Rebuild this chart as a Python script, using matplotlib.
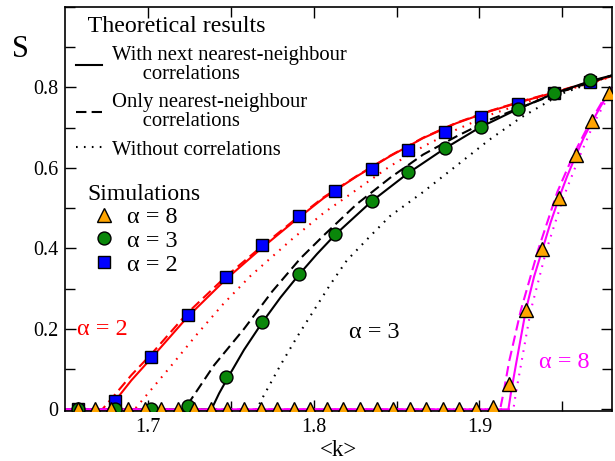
import matplotlib.pyplot as plt
from matplotlib.ticker import MultipleLocator, FixedLocator

plt.rcParams['font.family'] = ['Liberation Serif', 'DejaVu Serif']

# simulation points (x = <k>)
k_sim = [1.658, 1.680, 1.702, 1.724, 1.747, 1.769, 1.791, 1.813,
         1.835, 1.857, 1.879, 1.901, 1.923, 1.945, 1.967]
S_a2 = [0.0, 0.02, 0.129, 0.234, 0.328, 0.408, 0.48, 0.542,
        0.597, 0.645, 0.689, 0.726, 0.76, 0.786, 0.814]
S_a3 = [0.0, 0.0, 0.002, 0.008, 0.08, 0.218, 0.336, 0.435,
        0.518, 0.59, 0.65, 0.702, 0.746, 0.785, 0.818]

k_a8 = [1.658, 1.668, 1.678, 1.688, 1.698, 1.708, 1.718, 1.728, 1.738,
        1.748, 1.758, 1.768, 1.778, 1.788, 1.798, 1.808, 1.818, 1.828,
        1.838, 1.848, 1.858, 1.868, 1.878, 1.888, 1.898, 1.908, 1.918,
        1.928, 1.938, 1.948, 1.958, 1.968, 1.978]
S_a8 = [0, 0, 0, 0, 0, 0, 0, 0, 0, 0, 0, 0, 0, 0, 0, 0, 0, 0, 0, 0, 0,
        0, 0, 0, 0, 0.005, 0.064, 0.246, 0.399, 0.526, 0.632, 0.716, 0.787]

# theory, alpha = 2
k2_nnn = [1.65, 1.676, 1.68, 1.69, 1.702, 1.724, 1.747, 1.769, 1.787, 1.806,
          1.826, 1.846, 1.866, 1.886, 1.9065, 1.9266, 1.95, 1.98]
S2_nnn = [0, 0, 0.02, 0.072, 0.127, 0.23, 0.323, 0.402, 0.463, 0.525,
          0.579, 0.629, 0.674, 0.711, 0.741, 0.766, 0.793, 0.828]
k2_nn = [1.65, 1.6725, 1.68, 1.69, 1.702, 1.724, 1.747, 1.769, 1.787, 1.806,
         1.826, 1.846, 1.866, 1.886, 1.9065, 1.9266, 1.95, 1.98]
S2_nn = [0, 0, 0.036, 0.085, 0.137, 0.24, 0.33, 0.406, 0.466, 0.527,
         0.58, 0.63, 0.675, 0.712, 0.742, 0.767, 0.794, 0.829]
k2_none = [1.65, 1.692, 1.694, 1.713, 1.7295, 1.7455, 1.762, 1.7867, 1.806,
           1.826, 1.846, 1.866, 1.886, 1.9065, 1.9266, 1.95, 1.98]
S2_none = [0, 0, 0.01, 0.103, 0.186, 0.262, 0.332, 0.422, 0.488,
           0.546, 0.604, 0.653, 0.695, 0.732, 0.761, 0.79, 0.827]

# theory, alpha = 3
k3_nnn = [1.65, 1.7385, 1.7395, 1.743, 1.748, 1.758, 1.769, 1.78, 1.791, 1.802,
          1.813, 1.835, 1.857, 1.879, 1.9, 1.922, 1.945, 1.967, 1.98]
S3_nnn = [0, 0, 0.01, 0.04, 0.077, 0.148, 0.216, 0.278, 0.334, 0.386,
          0.434, 0.517, 0.587, 0.648, 0.70, 0.744, 0.785, 0.816, 0.83]
k3_nn = [1.65, 1.7225, 1.724, 1.74, 1.758, 1.775, 1.792, 1.806, 1.826, 1.846,
         1.866, 1.886, 1.9065, 1.9266, 1.95, 1.98]
S3_nn = [0, 0, 0.012, 0.11, 0.2, 0.293, 0.375, 0.432, 0.51, 0.575,
         0.633, 0.678, 0.72, 0.753, 0.79, 0.83]
k3_none = [1.65, 1.766, 1.768, 1.78, 1.79, 1.80, 1.81, 1.82, 1.834, 1.846,
           1.866, 1.886, 1.906, 1.925, 1.95, 1.98]
S3_none = [0, 0, 0.02, 0.11, 0.18, 0.245, 0.31, 0.37, 0.43, 0.48,
           0.54, 0.605, 0.67, 0.725, 0.785, 0.83]

# theory, alpha = 8
k8_nnn = [1.65, 1.9175, 1.919, 1.922, 1.928, 1.933, 1.938, 1.943, 1.948,
          1.953, 1.958, 1.963, 1.968, 1.973, 1.978, 1.98]
S8_nnn = [0, 0, 0.04, 0.11, 0.246, 0.33, 0.397, 0.465, 0.525,
          0.58, 0.629, 0.675, 0.715, 0.752, 0.786, 0.80]
k8_nn = [1.65, 1.9125, 1.9145, 1.918, 1.925, 1.9355, 1.947, 1.957, 1.967,
         1.977, 1.98]
S8_nn = [0, 0, 0.04, 0.12, 0.246, 0.397, 0.54, 0.635, 0.715, 0.785, 0.805]
k8_none = [1.65, 1.9205, 1.922, 1.9255, 1.931, 1.9405, 1.9505, 1.9605,
           1.9695, 1.979, 1.98]
S8_none = [0, 0, 0.04, 0.12, 0.246, 0.397, 0.525, 0.629, 0.715, 0.786, 0.79]

RED = '#ff0000'
MAG = '#ff00ff'
lw = 1.5
dash = (5, 2.5)
dot = (0.8, 3)

fig = plt.figure(figsize=(6.15, 4.61), dpi=100)
ax = fig.add_axes([0.1057, 0.1085, 0.8894, 0.8764])

ax.plot(k2_nnn, S2_nnn, color=RED, lw=lw)
ax.plot(k2_nn, S2_nn, color=RED, lw=lw, dashes=dash)
ax.plot(k2_none, S2_none, color=RED, lw=lw, dashes=dot)

h_solid, = ax.plot(k3_nnn, S3_nnn, color='k', lw=lw)
h_dash, = ax.plot(k3_nn, S3_nn, color='k', lw=lw, dashes=dash)
h_dot, = ax.plot(k3_none, S3_none, color='k', lw=lw, dashes=dot)

ax.plot(k8_nnn, S8_nnn, color=MAG, lw=lw)
ax.plot(k8_nn, S8_nn, color=MAG, lw=lw, dashes=dash)
ax.plot(k8_none, S8_none, color=MAG, lw=lw, dashes=dot)

h_sq, = ax.plot(k_sim, S_a2, ls='none', marker='s', ms=8.3, mfc='#0000ff',
                mec='k', mew=1.0, zorder=4)
h_ci, = ax.plot(k_sim, S_a3, ls='none', marker='o', ms=9.3, mfc='#0a870a',
                mec='k', mew=1.0, zorder=5)
h_tr, = ax.plot(k_a8, S_a8, ls='none', marker='^', ms=10, mfc='#ffa500',
                mec='k', mew=1.0, zorder=6)

ax.text(1.6723, 0.199, 'α = 2', color=RED, fontsize=17.5, ha='center', va='center')
ax.text(1.8365, 0.191, 'α = 3', color='k', fontsize=17.5, ha='center', va='center')
ax.text(1.9512, 0.117, 'α = 8', color=MAG, fontsize=17.5, ha='center', va='center')

ax.set_xlim(1.65, 1.98)
ax.set_ylim(-0.004, 1.0)
ax.xaxis.set_major_locator(FixedLocator([1.7, 1.8, 1.9]))
ax.xaxis.set_minor_locator(FixedLocator([1.75, 1.85, 1.95]))
ax.yaxis.set_major_locator(FixedLocator([0, 0.2, 0.4, 0.6, 0.8]))
ax.yaxis.set_minor_locator(MultipleLocator(0.1))
ax.set_yticklabels(['0', '0.2', '0.4', '0.6', '0.8'])
ax.tick_params(which='both', direction='in', top=True, right=True,
               labelsize=14.5, width=1)
ax.tick_params(which='major', length=8, pad=5)
ax.tick_params(which='minor', length=7)
for sp in ax.spines.values():
    sp.set_linewidth(1.2)

ax.set_xlabel('<k>', fontsize=16.5, labelpad=2)
ax.set_ylabel('S', fontsize=22, rotation=0)
ax.yaxis.set_label_coords(-0.082, 0.858)

leg1 = ax.legend([h_solid, h_dash, h_dot],
                 ['With next nearest-neighbour\n      correlations',
                  'Only nearest-neighbour\n      correlations',
                  'Without correlations'],
                 title='  Theoretical results', title_fontsize=17.3, fontsize=14.9,
                 loc='upper left', bbox_to_anchor=(0.02, 0.978), frameon=False,
                 alignment='left', handlelength=1.25, handletextpad=0.48,
                 borderpad=0, borderaxespad=0, labelspacing=0.44)
for t in leg1.get_texts():
    t.set_linespacing(1.0)
ax.add_artist(leg1)
leg2 = ax.legend([h_tr, h_ci, h_sq], ['α = 8', 'α = 3', 'α = 2'],
                 title='Simulations', title_fontsize=17, fontsize=17.5,
                 loc='upper left', bbox_to_anchor=(0.04, 0.563), frameon=False,
                 alignment='left', handlelength=1.42, handletextpad=0.25,
                 borderpad=0, borderaxespad=0, labelspacing=0.07)

fig.savefig('out.png', dpi=100)
